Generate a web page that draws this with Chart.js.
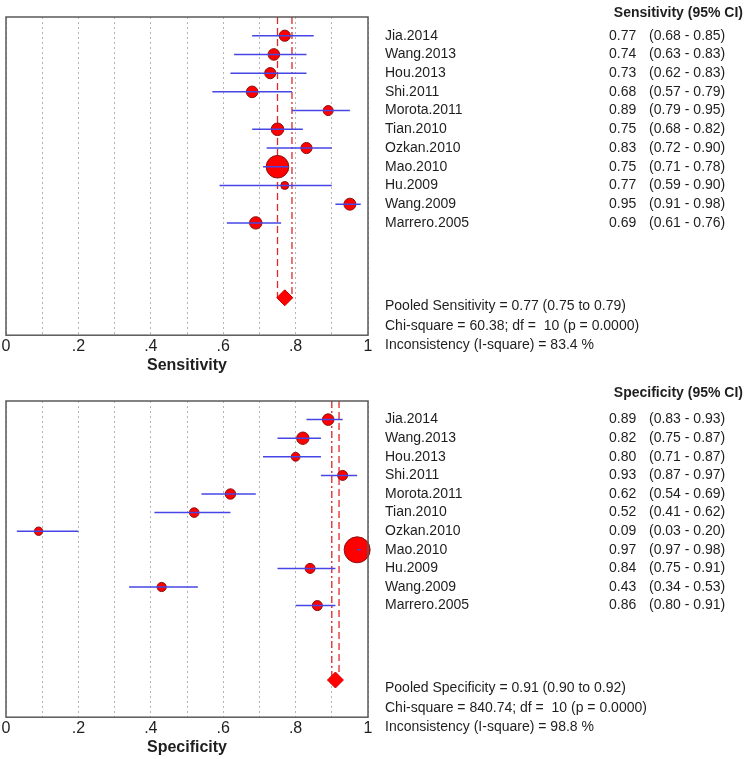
<!DOCTYPE html>
<html lang="en">
<head>
<meta charset="UTF-8" />
<title>Forest plot</title>
<style>
  body { margin: 0; background: #fff; }
  .panel { position: absolute; left: 0; width: 750px; }
</style>
</head>
<body>
<div class="panel" style="top:0;height:380px"><canvas id="sensChart"></canvas></div>
<div class="panel" style="top:380px;height:379px"><canvas id="specChart"></canvas></div>

<script src="https://cdn.jsdelivr.net/npm/chart.js@4/dist/chart.umd.min.js"></script>
<script>
const studies = ["Jia.2014", "Wang.2013", "Hou.2013", "Shi.2011", "Morota.2011", "Tian.2010",
                 "Ozkan.2010", "Mao.2010", "Hu.2009", "Wang.2009", "Marrero.2005"];

const sensValue = [0.77, 0.74, 0.73, 0.68, 0.89, 0.75, 0.83, 0.75, 0.77, 0.95, 0.69];
const sensLow   = [0.68, 0.63, 0.62, 0.57, 0.79, 0.68, 0.72, 0.71, 0.59, 0.91, 0.61];
const sensHigh  = [0.85, 0.83, 0.83, 0.79, 0.95, 0.82, 0.90, 0.78, 0.90, 0.98, 0.76];
const sensSize  = [5.6, 5.8, 5.6, 5.8, 5, 6.3, 5.6, 11.3, 4, 6, 6.2];
const sensPooled = [0.77, 0.75, 0.79];
const sensChi = "60.38", sensDf = 10, sensP = "0.0000", sensI2 = "83.4";

const specValue = [0.89, 0.82, 0.80, 0.93, 0.62, 0.52, 0.09, 0.97, 0.84, 0.43, 0.86];
const specLow   = [0.83, 0.75, 0.71, 0.87, 0.54, 0.41, 0.03, 0.97, 0.75, 0.34, 0.80];
const specHigh  = [0.93, 0.87, 0.87, 0.97, 0.69, 0.62, 0.20, 0.98, 0.91, 0.53, 0.91];
const specSize  = [5.8, 6.2, 4.4, 5, 5.2, 4.8, 4.2, 13, 5, 4.6, 5];
const specPooled = [0.91, 0.90, 0.92];
const specChi = "840.74", specDf = 10, specP = "0.0000", specI2 = "98.8";

const xTicks = [0, 0.2, 0.4, 0.6, 0.8, 1];
const xTickLabels = ["0", ".2", ".4", ".6", ".8", "1"];

const FONT = "'Liberation Sans', Arial, sans-serif";
const RED = "#ff0000";
const BLUE = "#4646e6";
const DASH_RED = "#e02828";

// frame around the plot area + the text table on the right
const tablePlugin = {
  id: "table",
  afterDatasetsDraw(chart) {
    const ctx = chart.ctx;
    const a = chart.chartArea;
    const y = chart.scales.y;
    const t = chart.options.plugins.table;
    ctx.save();
    ctx.strokeStyle = "#5a5a5a";
    ctx.lineWidth = 1.5;
    ctx.strokeRect(a.left, a.top, a.right - a.left, a.bottom - a.top);

    ctx.fillStyle = "#1e1e1e";
    ctx.textBaseline = "middle";
    ctx.font = "bold 14px " + FONT;
    ctx.textAlign = "right";
    ctx.fillText(t.header, 743, 13);

    ctx.font = "14px " + FONT;
    ctx.textAlign = "left";
    studies.forEach((s, i) => {
      const py = y.getPixelForValue(i);
      ctx.fillText(s, 385, py);
      ctx.fillText(t.value[i].toFixed(2), 609, py);
      ctx.fillText("(" + t.low[i].toFixed(2) + " - " + t.high[i].toFixed(2) + ")", 649, py);
    });
    t.footer.forEach((line, k) => {
      ctx.fillText(line, 385, y.getPixelForValue(14.45 + k * 1.05));
    });
    ctx.restore();
  }
};

function makePanel(id, title, value, low, high, size, pooled, footer, padTop, padBottom, dashes) {
  const datasets = [];
  studies.forEach((s, i) => {
    datasets.push({
      type: "line",
      data: [{ x: low[i], y: i }, { x: high[i], y: i }],
      borderColor: BLUE,
      borderWidth: 1.5,
      pointRadius: 0,
      order: 0
    });
  });
  datasets.push({
    type: "scatter",
    data: value.map((v, i) => ({ x: v, y: i })),
    pointRadius: size,
    backgroundColor: RED,
    borderColor: "#8a1010",
    borderWidth: 1,
    clip: false,
    order: 1
  });
  datasets.push({
    type: "scatter",
    data: [{ x: pooled[0], y: 14 }],
    pointStyle: "rectRot",
    pointRadius: 8,
    backgroundColor: RED,
    borderColor: "#d00000",
    borderWidth: 1,
    order: 1
  });
  [pooled[1], pooled[2]].forEach((p, k) => {
    datasets.push({
      type: "line",
      data: [{ x: p, y: -1 }, { x: p, y: 14 }],
      borderColor: DASH_RED,
      borderWidth: 1.3,
      borderDash: dashes[k],
      pointRadius: 0,
      order: 2
    });
  });

  return new Chart(document.getElementById(id), {
    type: "scatter",
    data: { datasets: datasets },
    options: {
      responsive: true,
      maintainAspectRatio: false,
      animation: false,
      layout: {
        autoPadding: false,
        padding: { left: 6, right: 382, top: padTop, bottom: padBottom }
      },
      plugins: {
        legend: { display: false },
        tooltip: { enabled: false },
        table: {
          header: title + " (95% CI)",
          value: value, low: low, high: high,
          footer: footer
        }
      },
      scales: {
        x: {
          type: "linear",
          min: 0,
          max: 1,
          afterFit: function (scale) {
            scale.paddingLeft = 0;
            scale.paddingRight = 0;
          },
          ticks: {
            stepSize: 0.1,
            autoSkip: false,
            maxRotation: 0,
            padding: 3,
            color: "#1e1e1e",
            font: { family: FONT, size: 16, lineHeight: 1 },
            callback: function (v) {
              const k = xTicks.findIndex(t => Math.abs(t - v) < 1e-6);
              return k < 0 ? "" : xTickLabels[k];
            }
          },
          grid: { color: "#b4b4b4", lineWidth: 1, drawTicks: false },
          border: { display: false, dash: [2, 3] },
          title: {
            display: true,
            text: title,
            color: "#1e1e1e",
            font: { family: FONT, size: 16, weight: "bold", lineHeight: 1.05 },
            padding: { top: 0, bottom: 0 }
          }
        },
        y: {
          type: "linear",
          display: false,
          reverse: true,
          min: -1,
          max: 16
        }
      }
    },
    plugins: [tablePlugin]
  });
}

makePanel("sensChart", "Sensitivity", sensValue, sensLow, sensHigh, sensSize, sensPooled, [
  "Pooled Sensitivity = " + sensPooled[0].toFixed(2) + " (" + sensPooled[1].toFixed(2) + " to " + sensPooled[2].toFixed(2) + ")",
  "Chi-square = " + sensChi + "; df =  " + sensDf + " (p = " + sensP + ")",
  "Inconsistency (I-square) = " + sensI2 + " %"
], 17, 6, [[7, 4], [7, 3, 2, 3]]);

makePanel("specChart", "Specificity", specValue, specLow, specHigh, specSize, specPooled, [
  "Pooled Specificity = " + specPooled[0].toFixed(2) + " (" + specPooled[1].toFixed(2) + " to " + specPooled[2].toFixed(2) + ")",
  "Chi-square = " + specChi + "; df =  " + specDf + " (p = " + specP + ")",
  "Inconsistency (I-square) = " + specI2 + " %"
], 21, 3, [[7, 3, 2, 3], [7, 4]]);
</script>
</body>
</html>
